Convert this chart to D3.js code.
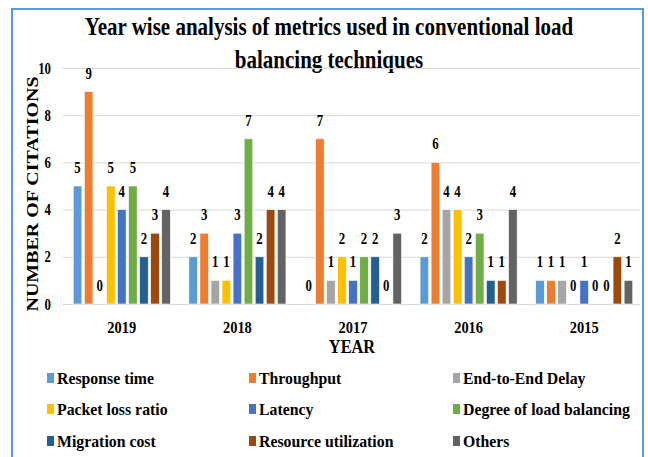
<!DOCTYPE html>
<html>
<head>
<meta charset="utf-8">
<script src="https://cdn.jsdelivr.net/npm/d3@7"></script>
<style>
  body { margin: 0; background: #fff; }
  svg text { font-family: "Liberation Serif", "DejaVu Serif", serif; font-weight: bold; }
</style>
</head>
<body>
<div id="chart"></div>
<script>
// years on the x axis
var years = ["2019", "2018", "2017", "2016", "2015"];
// metric names (series)
var metrics = ["Response time", "Throughput", "End-to-End Delay", "Packet loss ratio",
    "Latency", "Degree of load balancing", "Migration cost", "Resource utilization", "Others"];
var colors = ["#5B9BD5", "#ED7D31", "#A5A5A5", "#FFC000", "#4472C4", "#70AD47", "#255E91", "#9E480E", "#636363"];
// citations per metric, one value per year (same order as years)
var responseTime = [5, 2, 0, 2, 1];
var throughput = [9, 3, 7, 6, 1];
var endToEnd = [0, 1, 1, 4, 1];
var packetLoss = [5, 1, 2, 4, 0];
var latency = [4, 3, 1, 2, 1];
var degreeLB = [5, 7, 2, 3, 0];
var migration = [2, 2, 2, 1, 0];
var resourceUtil = [3, 4, 0, 1, 2];
var others = [4, 4, 3, 4, 1];
var yTicks = [0, 2, 4, 6, 8, 10];

var seriesValues = [responseTime, throughput, endToEnd, packetLoss, latency, degreeLB, migration, resourceUtil, others];

var W = 648, H = 457;
var svg = d3.select("#chart").append("svg")
    .attr("width", W)
    .attr("height", H);

// outer frame
svg.append("rect")
    .attr("x", 12).attr("y", 9)
    .attr("width", 631).attr("height", 460)
    .attr("fill", "none")
    .attr("stroke", "#5B9BD5")
    .attr("stroke-width", 2);

// helper: squeezed text, like the original (narrow Times)
function sqText(g, x, y, txt, size, sx, anchor) {
    return g.append("text")
        .attr("transform", "translate(" + x + "," + y + ") scale(" + sx + ",1)")
        .attr("text-anchor", anchor || "middle")
        .attr("font-family", "Liberation Serif, serif")
        .attr("font-weight", "bold")
        .attr("font-size", size)
        .attr("fill", "#000")
        .text(txt);
}

// title
sqText(svg, 329, 35, "Year wise analysis of metrics used in conventional load", 25, 0.84);
sqText(svg, 329, 68, "balancing techniques", 25, 0.84);

var x0 = d3.scaleBand()
    .domain(years)
    .range([64, 642])
    .paddingInner(0.16)
    .paddingOuter(0.08);

var x1 = d3.scaleBand()
    .domain(metrics)
    .range([0, x0.bandwidth()])
    .paddingInner(0.22);

var y = d3.scaleLinear()
    .domain([0, 10])
    .range([304, 68]);

// grid + y tick labels
var yAxis = d3.axisLeft(y)
    .tickValues(yTicks)
    .tickSize(-(640 - 63))
    .tickFormat(d3.format("d"));

var yG = svg.append("g")
    .attr("transform", "translate(63,0)")
    .call(yAxis);
yG.select(".domain").remove();
yG.selectAll(".tick line").attr("stroke", "#d9d9d9").attr("stroke-width", 1);
yG.selectAll(".tick text")
    .attr("x", null)
    .attr("transform", "translate(-12,0) scale(0.8,1)")
    .attr("font-size", 16)
    .attr("font-family", "Liberation Serif, serif")
    .attr("font-weight", "bold")
    .attr("fill", "#000");

// bars
var groups = svg.selectAll(".year")
    .data(years)
    .enter().append("g")
    .attr("class", "year")
    .attr("transform", function (d) { return "translate(" + x0(d) + ",0)"; });

groups.selectAll("rect")
    .data(function (d, yi) {
        return metrics.map(function (m, mi) { return { metric: m, value: seriesValues[mi][yi], color: colors[mi] }; });
    })
    .enter().append("rect")
    .attr("x", function (d) { return x1(d.metric); })
    .attr("y", function (d) { return y(d.value); })
    .attr("width", x1.bandwidth())
    .attr("height", function (d) { return y(0) - y(d.value); })
    .attr("fill", function (d) { return d.color; })
    .attr("stroke", "#fff")
    .attr("stroke-width", 0.6);

// value labels
groups.each(function (yr, yi) {
    var g = d3.select(this);
    metrics.forEach(function (m, mi) {
        var v = seriesValues[mi][yi];
        sqText(g, x1(m) + x1.bandwidth() / 2, y(v) - 13, v, 16, 0.8);
    });
});

// x labels
years.forEach(function (yr) {
    sqText(svg, x0(yr) + x0.bandwidth() / 2, 333, yr, 17, 0.85);
});

// axis titles
sqText(svg, 352, 353, "YEAR", 19, 0.86);
svg.append("text")
    .attr("transform", "translate(38,194) rotate(-90) scale(1,0.85)")
    .attr("text-anchor", "middle")
    .attr("font-family", "Liberation Serif, serif")
    .attr("font-weight", "bold")
    .attr("font-size", 20)
    .attr("fill", "#000")
    .text("NUMBER OF CITATIONS");

// legend: 3 columns x 3 rows
var legCols = [47, 249, 453];
var legRows = [384, 415, 447];
metrics.forEach(function (m, i) {
    var cx = legCols[i % 3], cy = legRows[Math.floor(i / 3)];
    svg.append("rect")
        .attr("x", cx).attr("y", cy - 11)
        .attr("width", 7).attr("height", 10)
        .attr("fill", colors[i]);
    sqText(svg, cx + 10, cy, m, 17, 0.93, "start");
});
</script>
</body>
</html>
